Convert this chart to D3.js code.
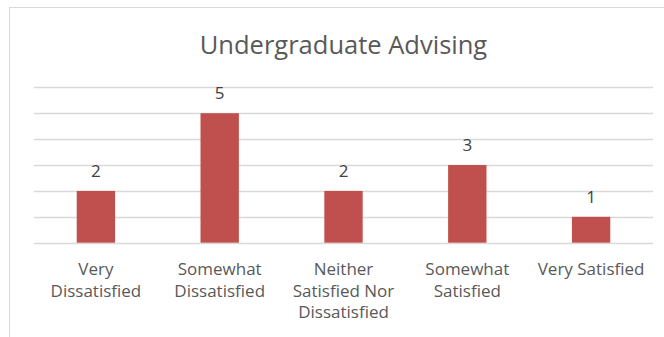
<!DOCTYPE html>
<html>
<head>
<meta charset="utf-8">
<script src="https://cdn.jsdelivr.net/npm/d3@7"></script>
<style>
  html, body { margin: 0; padding: 0; background: #fff; }
  svg { display: block; }
</style>
</head>
<body>
<svg id="chart" width="664" height="337"></svg>
<script>
// Survey responses for undergraduate advising
const categories = [
  ["Very", "Dissatisfied"],
  ["Somewhat", "Dissatisfied"],
  ["Neither", "Satisfied Nor", "Dissatisfied"],
  ["Somewhat", "Satisfied"],
  ["Very Satisfied"]
];
const counts = [2, 5, 2, 3, 1];
const yTicks = [0, 1, 2, 3, 4, 5, 6];
const title = "Undergraduate Advising";

const svg = d3.select("#chart");
const font = "'Open Sans', 'Noto Sans', sans-serif";
const textColor = "#595959";

// chart frame (continues past the right and bottom edges)
svg.append("rect")
  .attr("x", 9.5).attr("y", 7.5)
  .attr("width", 700).attr("height", 360)
  .attr("fill", "#fff")
  .attr("stroke", "#D9D9D9").attr("stroke-width", 1);

const plot = { left: 34, right: 653, top: 87.3, bottom: 242.7 };

const x = d3.scaleBand()
  .domain(d3.range(categories.length))
  .range([plot.left, plot.right])
  .paddingInner(0.69)
  .paddingOuter(0.345);

const y = d3.scaleLinear()
  .domain([0, 6])
  .range([plot.bottom, plot.top]);

// horizontal gridlines
svg.append("g")
  .selectAll("line")
  .data(yTicks)
  .join("line")
  .attr("x1", plot.left).attr("x2", plot.right)
  .attr("y1", d => Math.round(y(d)) + 0.5)
  .attr("y2", d => Math.round(y(d)) + 0.5)
  .attr("stroke", "#D9D9D9").attr("stroke-width", 1.3);

// bars
svg.append("g")
  .selectAll("rect")
  .data(counts)
  .join("rect")
  .attr("x", (d, i) => x(i))
  .attr("width", x.bandwidth())
  .attr("y", d => y(d))
  .attr("height", d => y(0) - y(d))
  .attr("fill", "#C0504D");

// value labels
svg.append("g")
  .selectAll("text")
  .data(counts)
  .join("text")
  .attr("x", (d, i) => x(i) + x.bandwidth() / 2)
  .attr("y", d => y(d) - 14)
  .attr("text-anchor", "middle")
  .attr("font-family", font)
  .attr("font-size", 17)
  .attr("fill", "#404040")
  .text(d => d);

// category labels
const cat = svg.append("g")
  .selectAll("text")
  .data(categories)
  .join("text")
  .attr("text-anchor", "middle")
  .attr("font-family", font)
  .attr("font-size", 17)
  .attr("fill", textColor);
cat.each(function(lines, i) {
  d3.select(this).selectAll("tspan")
    .data(lines)
    .join("tspan")
    .attr("x", x(i) + x.bandwidth() / 2)
    .attr("y", (d, j) => 275 + j * 21.7)
    .text(d => d);
});

// title
svg.append("text")
  .attr("x", 343.5).attr("y", 53.5)
  .attr("text-anchor", "middle")
  .attr("font-family", font)
  .attr("font-size", 25.5)
  .attr("fill", textColor)
  .text(title);
</script>
</body>
</html>
